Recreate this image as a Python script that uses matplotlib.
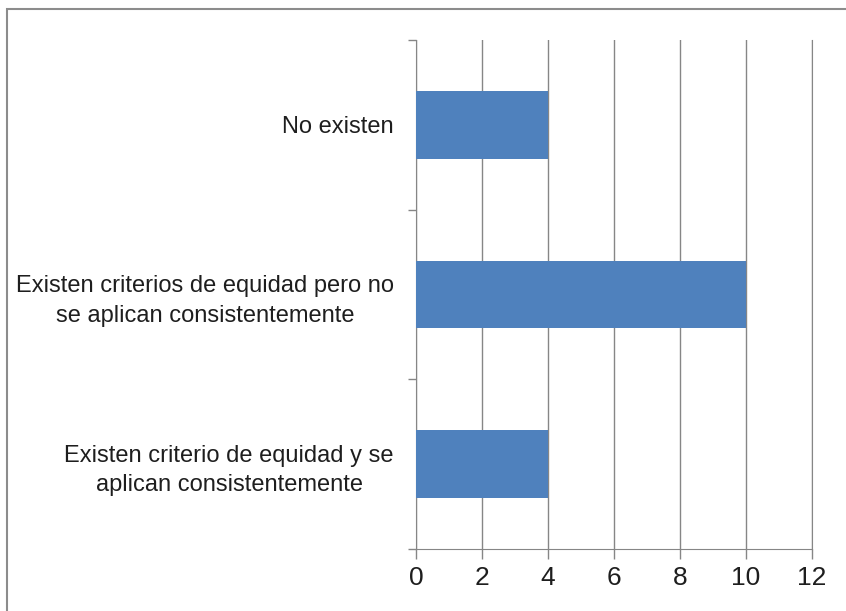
import matplotlib
matplotlib.use("Agg")
from matplotlib import pyplot as plt
from matplotlib.patches import Rectangle

# Categories listed bottom to top
categories = [
    "Existen criterio de equidad y se\naplican consistentemente",
    "Existen criterios de equidad pero no\nse aplican consistentemente",
    "No existen",
]
values = [4, 10, 4]
x_ticks = [0, 2, 4, 6, 8, 10, 12]

plt.rcParams["font.family"] = ["Liberation Sans Narrow", "Liberation Sans", "DejaVu Sans"]

fig = plt.figure(figsize=(8.46, 6.11), dpi=100)
ax = fig.add_axes([0.4917, 0.1015, 0.9598 - 0.4917, 0.9345 - 0.1015])

grid_color = "#868686"
ax.barh(range(len(categories)), values, height=0.4, color="#4F81BD", zorder=3)

ax.set_xlim(0, 12)
ax.set_ylim(-0.5, len(categories) - 0.5)
ax.set_xticks(x_ticks)
ax.set_xticklabels([str(t) for t in x_ticks], fontsize=19, color="#1e1e1e")
ax.xaxis.grid(True, color=grid_color, linewidth=1.0, zorder=0)

# category labels right aligned, lines centred; tick marks on band edges
ax.set_yticks(range(len(categories)))
ax.set_yticklabels(categories, fontsize=17, color="#1e1e1e", ha="right",
                   multialignment="center", linespacing=1.45)
ax.tick_params(axis="y", length=0, pad=16)
ax.set_yticks([i - 0.5 for i in range(len(categories) + 1)], minor=True)
ax.tick_params(axis="y", which="minor", length=6, color=grid_color, width=1.0)
ax.tick_params(axis="x", length=7, color=grid_color, width=1.0, pad=5)

ax.spines["top"].set_visible(False)
for side in ["left", "bottom", "right"]:
    ax.spines[side].set_color(grid_color)

# outer chart border
fig.patches.append(Rectangle((7 / 846, -0.01), 1.0, 1 - 9 / 611 + 0.01,
                             transform=fig.transFigure, fill=False,
                             edgecolor="#8c8c8c", linewidth=1.5))

fig.savefig("out.png", dpi=100)
